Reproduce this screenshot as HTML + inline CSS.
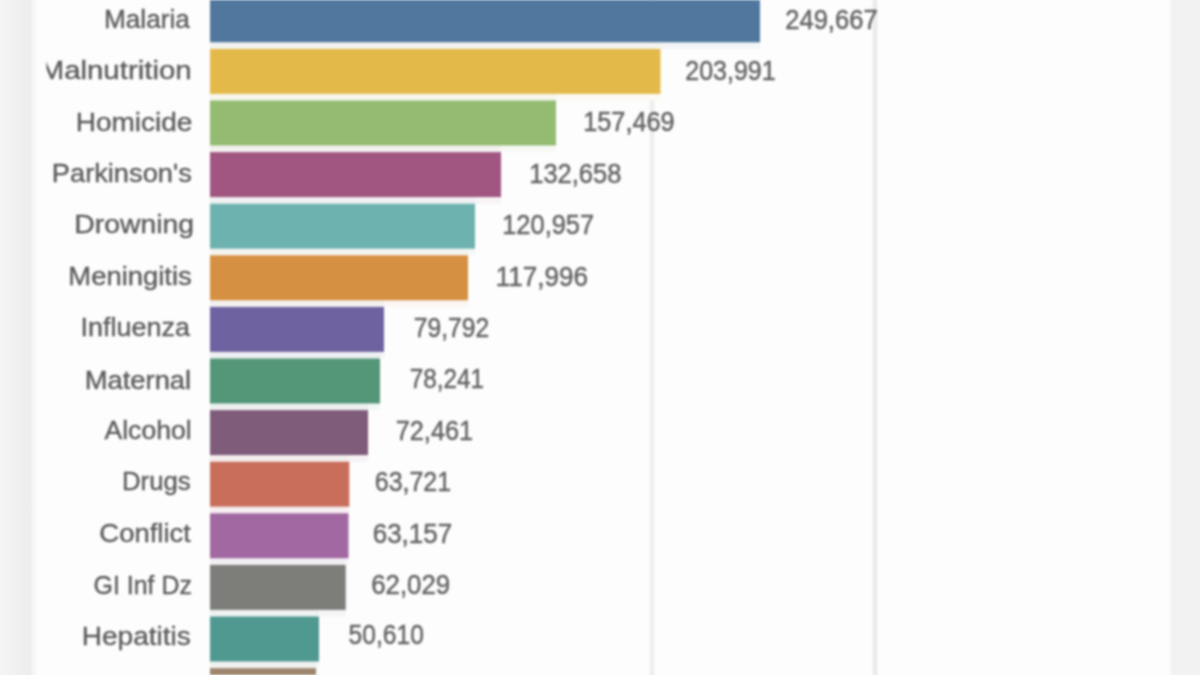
<!DOCTYPE html>
<html><head><meta charset="utf-8"><title>Causes of death</title>
<style>
html,body{margin:0;padding:0;}
body{width:1200px;height:675px;overflow:hidden;position:relative;background:#fdfdfd;}
.lg{position:absolute;left:0;top:0;width:38px;height:675px;background:linear-gradient(to right,#f6f5f6 0px,#f2f1f2 14px,#eeedee 30px,#f8f8f8 34px,#fdfdfd 38px);}
.rg{position:absolute;left:1168px;top:0;width:32px;height:675px;background:linear-gradient(to right,#fdfdfd 0px,#f2f2f2 5px,#f2f2f2 32px);}
.gl{position:absolute;top:0;width:8px;height:675px;}
svg{position:absolute;left:0;top:0;}
svg.b{filter:blur(0.9px);}
svg.t{filter:blur(1.3px);}
text{font-family:"Liberation Sans",Arial,sans-serif;white-space:pre;}
text.l{font-size:25.5px;fill:#5a5a5a;stroke:#5a5a5a;stroke-width:0.35px;}
text.v{font-size:27.0px;fill:#636363;stroke:#636363;stroke-width:0.45px;}
</style></head><body>
<div class="lg"></div><div class="rg"></div>
<div class="gl" style="left:648px;background:linear-gradient(to right,rgba(0,0,0,0),#efefef 40%,#efefef 60%,rgba(0,0,0,0))"></div>
<div class="gl" style="left:870.5px;background:linear-gradient(to right,rgba(0,0,0,0),#ebebeb 40%,#ebebeb 60%,rgba(0,0,0,0))"></div>
<svg class="b" width="1200" height="675" viewBox="0 0 1200 675">
<rect x="210" y="42.30" width="450.50" height="6.60" fill="#f3f3ef"/>
<rect x="660.50" y="42.30" width="99.50" height="6.60" fill="#f3f5f7"/>
<rect x="210" y="93.90" width="346.00" height="6.60" fill="#f6f6ed"/>
<rect x="556.00" y="93.90" width="104.50" height="6.60" fill="#fbf9f2"/>
<rect x="210" y="145.50" width="291.00" height="6.60" fill="#f3f1f0"/>
<rect x="501.00" y="145.50" width="55.00" height="6.60" fill="#f7f9f5"/>
<rect x="210" y="197.10" width="265.00" height="6.60" fill="#f1f1f3"/>
<rect x="475.00" y="197.10" width="26.00" height="6.60" fill="#f7f3f6"/>
<rect x="210" y="248.70" width="258.00" height="6.60" fill="#f4f4f0"/>
<rect x="468.00" y="248.70" width="7.00" height="6.60" fill="#f4f8f8"/>
<rect x="210" y="300.30" width="174.00" height="6.60" fill="#f4f0ef"/>
<rect x="384.00" y="300.30" width="84.00" height="6.60" fill="#fbf6f2"/>
<rect x="210" y="351.90" width="170.00" height="6.60" fill="#edf0f2"/>
<rect x="380.00" y="351.90" width="4.00" height="6.60" fill="#f4f4f7"/>
<rect x="210" y="403.50" width="158.00" height="6.60" fill="#eef0f0"/>
<rect x="368.00" y="403.50" width="12.00" height="6.60" fill="#f3f7f5"/>
<rect x="210" y="455.10" width="139.30" height="6.60" fill="#f4eeee"/>
<rect x="349.30" y="455.10" width="18.70" height="6.60" fill="#f5f3f5"/>
<rect x="210" y="506.70" width="138.50" height="6.60" fill="#f6eef0"/>
<rect x="210" y="558.30" width="135.70" height="6.60" fill="#f2eff2"/>
<rect x="345.70" y="558.30" width="2.80" height="6.60" fill="#f8f4f8"/>
<rect x="210" y="609.90" width="109.00" height="6.60" fill="#eef2f1"/>
<rect x="319.00" y="609.90" width="26.70" height="6.60" fill="#f5f5f5"/>
<rect x="210" y="661.50" width="106.00" height="6.60" fill="#f0f2f0"/>
<rect x="316.00" y="661.50" width="3.00" height="6.60" fill="#f3f7f7"/>
<rect x="210" y="-2.70" width="550.00" height="45.0" fill="#50789e"/>
<rect x="210" y="48.90" width="450.50" height="45.0" fill="#e3b94a"/>
<rect x="210" y="100.50" width="346.00" height="45.0" fill="#94bb72"/>
<rect x="210" y="152.10" width="291.00" height="45.0" fill="#a05680"/>
<rect x="210" y="203.70" width="265.00" height="45.0" fill="#6eb2b0"/>
<rect x="210" y="255.30" width="258.00" height="45.0" fill="#d69042"/>
<rect x="210" y="306.90" width="174.00" height="45.0" fill="#6e62a0"/>
<rect x="210" y="358.50" width="170.00" height="45.0" fill="#539678"/>
<rect x="210" y="410.10" width="158.00" height="45.0" fill="#7f5c7a"/>
<rect x="210" y="461.70" width="139.30" height="45.0" fill="#ca6e5c"/>
<rect x="210" y="513.30" width="138.50" height="45.0" fill="#a268a2"/>
<rect x="210" y="564.90" width="135.70" height="45.0" fill="#7d7d7a"/>
<rect x="210" y="616.50" width="109.00" height="45.0" fill="#509991"/>
<rect x="210" y="668.10" width="106.00" height="45.0" fill="#9e866e"/>
</svg>
<svg class="t" width="1200" height="675" viewBox="0 0 1200 675">
<defs><clipPath id="lc"><rect x="46.5" y="0" width="200" height="675"/></clipPath></defs>
<g clip-path="url(#lc)">
<text class="l" transform="translate(103.90,27.91) scale(1.0286,1)">Malaria</text>
<text class="l" transform="translate(39.65,79.21) scale(1.1532,1)">Malnutrition</text>
<text class="l" transform="translate(75.76,131.11) scale(1.0985,1)">Homicide</text>
<text class="l" transform="translate(51.82,181.81) scale(1.0686,1)">Parkinson's</text>
<text class="l" transform="translate(74.23,232.91) scale(1.1128,1)">Drowning</text>
<text class="l" transform="translate(68.31,284.61) scale(1.0759,1)">Meningitis</text>
<text class="l" transform="translate(80.58,336.31) scale(1.0563,1)">Influenza</text>
<text class="l" transform="translate(84.81,389.31) scale(1.0723,1)">Maternal</text>
<text class="l" transform="translate(104.50,438.81) scale(1.0421,1)">Alcohol</text>
<text class="l" transform="translate(121.94,490.30) scale(1.0120,1)">Drugs</text>
<text class="l" transform="translate(99.33,542.21) scale(1.0774,1)">Conflict</text>
<text class="l" transform="translate(93.55,593.81) scale(0.9785,1)">GI Inf Dz</text>
<text class="l" transform="translate(81.76,644.81) scale(1.0995,1)">Hepatitis</text>
</g>
<text class="v" transform="translate(785.22,28.65) scale(0.9473,1)">249,667</text>
<text class="v" transform="translate(685.25,80.15) scale(0.9263,1)">203,991</text>
<text class="v" transform="translate(583.23,131.25) scale(0.9369,1)">157,469</text>
<text class="v" transform="translate(529.21,182.85) scale(0.9448,1)">132,658</text>
<text class="v" transform="translate(502.22,234.45) scale(0.9422,1)">120,957</text>
<text class="v" transform="translate(495.68,285.65) scale(0.9652,1)">117,996</text>
<text class="v" transform="translate(413.77,337.45) scale(0.9127,1)">79,792</text>
<text class="v" transform="translate(409.78,388.45) scale(0.9002,1)">78,241</text>
<text class="v" transform="translate(395.73,440.45) scale(0.9377,1)">72,461</text>
<text class="v" transform="translate(374.75,490.95) scale(0.9252,1)">63,721</text>
<text class="v" transform="translate(372.70,543.45) scale(0.9627,1)">63,157</text>
<text class="v" transform="translate(371.21,594.25) scale(0.9564,1)">62,029</text>
<text class="v" transform="translate(348.51,643.95) scale(0.9127,1)">50,610</text>
</svg>
</body></html>
